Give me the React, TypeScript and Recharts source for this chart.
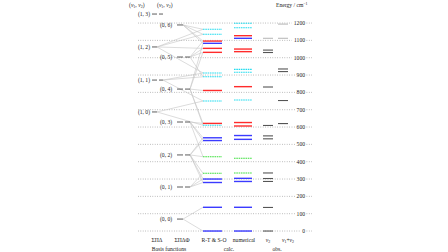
import { ScatterChart, XAxis, YAxis, ReferenceLine, Scatter, Customized } from 'recharts'

// energies in cm^-1
const gridEnergies = [0, 100, 200, 300, 400, 500, 600, 700, 800, 900, 1000, 1100, 1200]

const basisV1Labels = ['(1, 3)', '(1, 2)', '(1, 1)', '(1, 0)']
const basisV1Energies = [1252, 1062, 871, 687]
const basisV1Double = [true, false, true, false]

const basisV0Labels = ['(0, 6)', '(0, 5)', '(0, 4)', '(0, 3)', '(0, 2)', '(0, 1)', '(0, 0)']
const basisV0Energies = [1189, 1004, 819, 629, 439, 254, 69]
const basisV0Double = [false, true, true, true, true, true, false]

const rtEnergies = [1164, 1135, 1096, 1083, 1054, 1031, 912, 890, 811, 750, 621, 610, 538, 522, 429, 333, 300, 280, 137, 0]
const rtKinds = ['c', 'c', 'r', 'b', 'r', 'r', 'c', 'c', 'r', 'c', 'r', 'c', 'b', 'b', 'g', 'g', 'b', 'b', 'b', 'b']
const rtParents = [
  ['(1, 2)', '(0, 6)'],
  ['(1, 2)', '(0, 6)'],
  ['(0, 6)', '(0, 5)'],
  ['(0, 6)', '(0, 4)'],
  ['(0, 5)', '(1, 2)'],
  ['(0, 5)', '(0, 4)'],
  ['(1, 1)', '(1, 2)'],
  ['(1, 1)', '(0, 5)'],
  ['(0, 4)'],
  ['(1, 0)', '(1, 1)'],
  ['(0, 3)', '(0, 4)'],
  ['(1, 0)', '(0, 4)'],
  ['(0, 2)', '(0, 3)'],
  ['(0, 2)', '(0, 3)'],
  ['(0, 2)', '(0, 3)'],
  ['(0, 2)', '(0, 1)'],
  ['(0, 2)', '(0, 1)'],
  ['(0, 1)', '(0, 2)'],
  ['(0, 0)'],
  ['(0, 0)'],
]

const numEnergies = [1199, 1173, 1127, 1112, 1050, 1035, 933, 916, 833, 756, 626, 606, 551, 529, 420, 335, 304, 286, 137, 0]
const numKinds = ['c', 'c', 'r', 'b', 'r', 'r', 'c', 'c', 'r', 'c', 'r', 'r', 'b', 'b', 'g', 'g', 'b', 'b', 'b', 'b']

const obsNu2Energies = [1112, 1044, 1030, 831, 609, 549, 532, 335, 303, 286, 136, 0]
const obsNu2Tentative = [true, false, false, false, false, false, false, false, false, false, false, false]
const obsCombEnergies = [1194, 1112, 935, 920, 753, 620]
const obsCombTentative = [true, true, false, false, false, false]

const W = 448
const H = 252
const FONT = '"Liberation Serif", "DejaVu Serif", serif'
const FS = 5.6

const COLORS: Record<string, string> = { b: '#3b3bff', r: '#ff2b2b', c: '#22dcef', g: '#3ce03c' }
const DASHED: Record<string, string | undefined> = { b: undefined, r: undefined, c: '1.6 0.7', g: '1.6 0.7' }

// column placement (x axis runs 0..448 so units are px)
const COL_RT = [203, 222]
const COL_NUM = [234, 252]
const COL_NU2 = [263, 273]
const COL_COMB = [278, 288]
const GRID_X = [138, 312]
const TICK_X = 305

const seg = (x1: number, x2: number, e: number) => [
  { x: x1, y: e },
  { x: x2, y: e },
]

function TickText(props: any) {
  const { cx, cy, payload } = props
  return (
    <text x={cx} y={cy} dy={2} textAnchor="end" fontSize={FS} fontFamily={FONT} fill="#222">
      {payload.text}
    </text>
  )
}

function BasisText(props: any) {
  const { cx, cy, payload } = props
  return (
    <text x={cx} y={cy} dy={2} textAnchor={payload.anchor} fontSize={FS} fontFamily={FONT} fill="#222">
      {payload.text}
    </text>
  )
}

function VV({ x, y }: { x: number; y: number }) {
  return (
    <text x={x} y={y} fontSize={FS} fontFamily={FONT} fill="#222">
      (<tspan fontStyle="italic">v</tspan>
      <tspan fontSize={4} dy={1.2}>1</tspan>
      <tspan dy={-1.2}>, </tspan>
      <tspan fontStyle="italic">v</tspan>
      <tspan fontSize={4} dy={1.2}>2</tspan>
      <tspan dy={-1.2}>)</tspan>
    </text>
  )
}

function Captions() {
  const t = { fontSize: FS, fontFamily: FONT, fill: '#222', textAnchor: 'middle' as const }
  return (
    <g>
      <VV x={129} y={6.5} />
      <VV x={157} y={6.5} />
      <text x={276} y={6.5} fontSize={FS} fontFamily={FONT} fill="#222">
        Energy / cm<tspan fontSize={4} dy={-2}>−1</tspan>
      </text>
      <text x={157} y={242} {...t}>ΣΠΔ</text>
      <text x={182} y={242} {...t}>ΣΠΔΦ</text>
      <text x={214} y={242} {...t}>R-T &amp; S-O</text>
      <text x={244} y={242} {...t}>numerical</text>
      <text x={268} y={242} {...t}>
        <tspan fontStyle="italic">ν</tspan>
        <tspan fontSize={4} dy={1.2}>2</tspan>
      </text>
      <text x={288} y={242} {...t}>
        <tspan fontStyle="italic">ν</tspan>
        <tspan fontSize={4} dy={1.2}>1</tspan>
        <tspan dy={-1.2}>+</tspan>
        <tspan fontStyle="italic">ν</tspan>
        <tspan fontSize={4} dy={1.2}>2</tspan>
      </text>
      <text x={169} y={250.5} {...t}>Basis functions</text>
      <text x={229} y={250.5} {...t}>calc.</text>
      <text x={277} y={250.5} {...t}>obs.</text>
    </g>
  )
}

export default function App() {
  const basisStart: Record<string, number> = {}
  basisV1Labels.forEach((l, i) => (basisStart[l] = basisV1Double[i] ? 163 : 157))
  basisV0Labels.forEach((l, i) => (basisStart[l] = basisV0Double[i] ? 190 : 183))
  const basisEnergy: Record<string, number> = {}
  basisV1Labels.forEach((l, i) => (basisEnergy[l] = basisV1Energies[i]))
  basisV0Labels.forEach((l, i) => (basisEnergy[l] = basisV0Energies[i]))

  const tickPoints = gridEnergies.map((e) => ({ x: TICK_X, y: e, text: String(e) }))
  const basisPoints = [
    ...basisV1Labels.map((l, i) => ({ x: 150, y: basisV1Energies[i], text: l, anchor: 'end' })),
    ...basisV0Labels.map((l, i) => ({ x: 160, y: basisV0Energies[i], text: l, anchor: 'start' })),
  ]

  return (
    <div style={{ width: W, height: H, background: '#fff' }}>
      <style>{'body{margin:0}'}</style>
      <ScatterChart width={W} height={H} margin={{ top: 0, right: 0, bottom: 0, left: 0 }}>
        <XAxis type="number" dataKey="x" domain={[0, W]} hide allowDataOverflow />
        <YAxis type="number" dataKey="y" domain={[-121, 1333]} hide allowDataOverflow />

        {gridEnergies.map((e) => {
          const w = String(e).length * 2.9
          return [
            <ReferenceLine key={`g1${e}`} segment={seg(GRID_X[0], TICK_X - w - 1.5, e)} stroke="#999" strokeWidth={0.8} strokeDasharray="0.8 1.6" ifOverflow="visible" />,
            <ReferenceLine key={`g2${e}`} segment={seg(TICK_X + 1.5, GRID_X[1], e)} stroke="#999" strokeWidth={0.8} strokeDasharray="0.8 1.6" ifOverflow="visible" />,
          ]
        })}

        {rtParents.flatMap((ps, i) =>
          ps.map((p) => (
            <ReferenceLine
              key={`c${i}${p}`}
              segment={[
                { x: basisStart[p], y: basisEnergy[p] },
                { x: COL_RT[0], y: rtEnergies[i] },
              ]}
              stroke="#c4c4c4"
              strokeWidth={0.6}
              ifOverflow="visible"
            />
          )),
        )}

        {basisV1Energies.map((e, i) => [
          <ReferenceLine key={`b1a${i}`} segment={seg(152, 157, e)} stroke="#333" strokeWidth={0.8} ifOverflow="visible" />,
          basisV1Double[i] ? (
            <ReferenceLine key={`b1b${i}`} segment={seg(159, 163, e)} stroke="#333" strokeWidth={0.8} ifOverflow="visible" />
          ) : null,
        ])}
        {basisV0Energies.map((e, i) => [
          <ReferenceLine key={`b0a${i}`} segment={seg(177, 183, e)} stroke="#333" strokeWidth={0.8} ifOverflow="visible" />,
          basisV0Double[i] ? (
            <ReferenceLine key={`b0b${i}`} segment={seg(185, 190, e)} stroke="#333" strokeWidth={0.8} ifOverflow="visible" />
          ) : null,
        ])}

        {rtEnergies.map((e, i) => (
          <ReferenceLine
            key={`rt${i}`}
            segment={seg(COL_RT[0], COL_RT[1], e)}
            stroke={COLORS[rtKinds[i]]}
            strokeWidth={rtKinds[i] === 'c' || rtKinds[i] === 'g' ? 1.1 : 1.4}
            strokeDasharray={DASHED[rtKinds[i]]}
            ifOverflow="visible"
          />
        ))}
        {numEnergies.map((e, i) => (
          <ReferenceLine
            key={`n${i}`}
            segment={seg(COL_NUM[0], COL_NUM[1], e)}
            stroke={COLORS[numKinds[i]]}
            strokeWidth={numKinds[i] === 'c' || numKinds[i] === 'g' ? 1.1 : 1.4}
            strokeDasharray={DASHED[numKinds[i]]}
            ifOverflow="visible"
          />
        ))}
        {obsNu2Energies.map((e, i) => (
          <ReferenceLine
            key={`o2${i}`}
            segment={seg(COL_NU2[0], COL_NU2[1], e)}
            stroke={obsNu2Tentative[i] ? '#bbb' : '#555'}
            strokeWidth={1.1}
            ifOverflow="visible"
          />
        ))}
        {obsCombEnergies.map((e, i) => (
          <ReferenceLine
            key={`oc${i}`}
            segment={seg(COL_COMB[0], COL_COMB[1], e)}
            stroke={obsCombTentative[i] ? '#bbb' : '#555'}
            strokeWidth={1.1}
            ifOverflow="visible"
          />
        ))}

        <Scatter data={tickPoints} dataKey="y" shape={TickText} isAnimationActive={false} />
        <Scatter data={basisPoints} dataKey="y" shape={BasisText} isAnimationActive={false} />
        <Customized component={Captions} />
      </ScatterChart>
    </div>
  )
}
